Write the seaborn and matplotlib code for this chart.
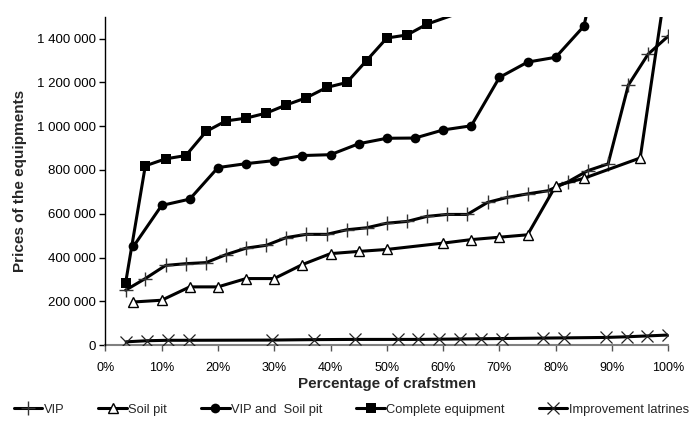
import pandas as pd
import seaborn as sns
import matplotlib.pyplot as plt
from matplotlib.ticker import FuncFormatter, MultipleLocator

# percentage of craftsmen (x) and prices in thousands (y)
vip_x = [3.6, 7.1, 10.7, 14.3, 17.9, 21.4, 25.0, 28.6, 32.1, 35.7, 39.3, 42.9, 46.4, 50.0,
         53.6, 57.1, 60.7, 64.3, 67.9, 71.4, 75.0, 78.6, 82.1, 85.7, 89.3, 92.9, 96.4, 100.0]
vip_y = [251, 304, 364, 372, 377, 413, 443, 456, 491, 506, 506, 527, 536, 557,
         565, 588, 597, 597, 652, 675, 691, 705, 745, 797, 828, 1188, 1329, 1412]

soil_x = [5, 10, 15, 20, 25, 30, 35, 40, 45, 50, 60, 65, 70, 75, 80, 85, 95, 100]
soil_y = [197, 205, 266, 266, 304, 304, 368, 418, 428, 437, 466, 482, 493, 504, 728, 762, 855, 1720]

both_x = [5, 10, 15, 20, 25, 30, 35, 40, 45, 50, 55, 60, 65, 70, 75, 80, 85, 90, 95, 100]
both_y = [451, 638, 667, 811, 829, 843, 866, 870, 920, 945, 946, 983, 1002, 1223,
          1293, 1315, 1457, 2030, 2300, 2600]

complete_x = [3.6, 7.1, 10.7, 14.3, 17.9, 21.4, 25.0, 28.6, 32.1, 35.7, 39.3, 42.9, 46.4, 50.0,
              53.6, 57.1, 64.3, 71.4, 78.6, 85.7, 92.9, 100.0]
complete_y = [284, 819, 851, 866, 976, 1024, 1037, 1060, 1097, 1130, 1177, 1200, 1300, 1403,
              1417, 1466, 1531, 1600, 1680, 1760, 1850, 1950]

latrine_x = [3.7, 7.4, 11.1, 14.8, 29.6, 37.0, 44.4, 51.9, 55.6, 59.3, 63.0, 66.7, 70.4,
             77.8, 81.5, 88.9, 92.6, 96.3, 100.0]
latrine_y = [15, 20, 22, 22, 23, 25, 26, 26, 26, 27, 28, 29, 30, 32, 33, 35, 38, 42, 46]

series = [
    ("VIP", vip_x, vip_y, dict(marker="+", ms=10, mew=1.0, mec="#333333")),
    ("Soil pit", soil_x, soil_y, dict(marker="^", ms=7, mew=1.0, mfc="white", mec="black")),
    ("VIP and  Soil pit", both_x, both_y, dict(marker="o", ms=7, mew=0, mfc="black")),
    ("Complete equipment", complete_x, complete_y, dict(marker="s", ms=6.5, mew=0, mfc="black")),
    ("Improvement latrines", latrine_x, latrine_y, dict(marker="x", ms=8, mew=0.9, mec="#222222")),
]

sns.set_style("white")
plt.rcParams['font.family'] = ['Liberation Sans', 'DejaVu Sans']

fig = plt.figure(figsize=(6.93, 4.25), dpi=100)
ax = fig.add_axes([0.152, 0.188, 0.8124, 0.7725])

for name, xs, ys, style in series:
    df = pd.DataFrame({"pct": [v / 100 for v in xs], "price": [v * 1000 for v in ys]})
    sns.lineplot(data=df, x="pct", y="price", ax=ax, color="black", lw=2.2,
                 sort=False, estimator=None, label=name, **style)

ax.set_xlim(0, 1)
ax.set_ylim(0, 1500000)
ax.xaxis.set_major_locator(MultipleLocator(0.1))
ax.yaxis.set_major_locator(MultipleLocator(200000))
ax.xaxis.set_major_formatter(FuncFormatter(lambda v, p: f"{v * 100:.0f}%"))
ax.yaxis.set_major_formatter(FuncFormatter(lambda v, p: f"{int(round(v)):,}".replace(",", " ")))

for s in ["top", "right"]:
    ax.spines[s].set_visible(False)
ax.spines["left"].set_color("black")
ax.spines["left"].set_linewidth(1.0)
ax.spines["bottom"].set_color("#808080")
ax.spines["bottom"].set_linewidth(1.5)
ax.spines["bottom"].set_zorder(1)

ax.tick_params(axis="y", direction="out", length=4, width=1, color="black", pad=3,
               labelsize=9.5, labelcolor="black", left=True)
ax.tick_params(axis="x", direction="out", length=4, width=1, color="#555555", pad=8,
               labelsize=9, labelcolor="black", bottom=True)

ax.set_xlabel("Percentage of crafstmen", fontsize=11, fontweight="bold", labelpad=2)
ax.set_ylabel("Prices of the equipments", fontsize=11, fontweight="bold", labelpad=7)

handles, labels = ax.get_legend_handles_labels()
ax.legend_.remove()
fig.legend(handles, labels, loc="lower left", bbox_to_anchor=(0.007, 0.0), ncol=5,
           frameon=False, fontsize=9.3, handlelength=2.2, handletextpad=0.1,
           columnspacing=2.65, borderaxespad=0.3)

fig.savefig("out.png", dpi=100)
